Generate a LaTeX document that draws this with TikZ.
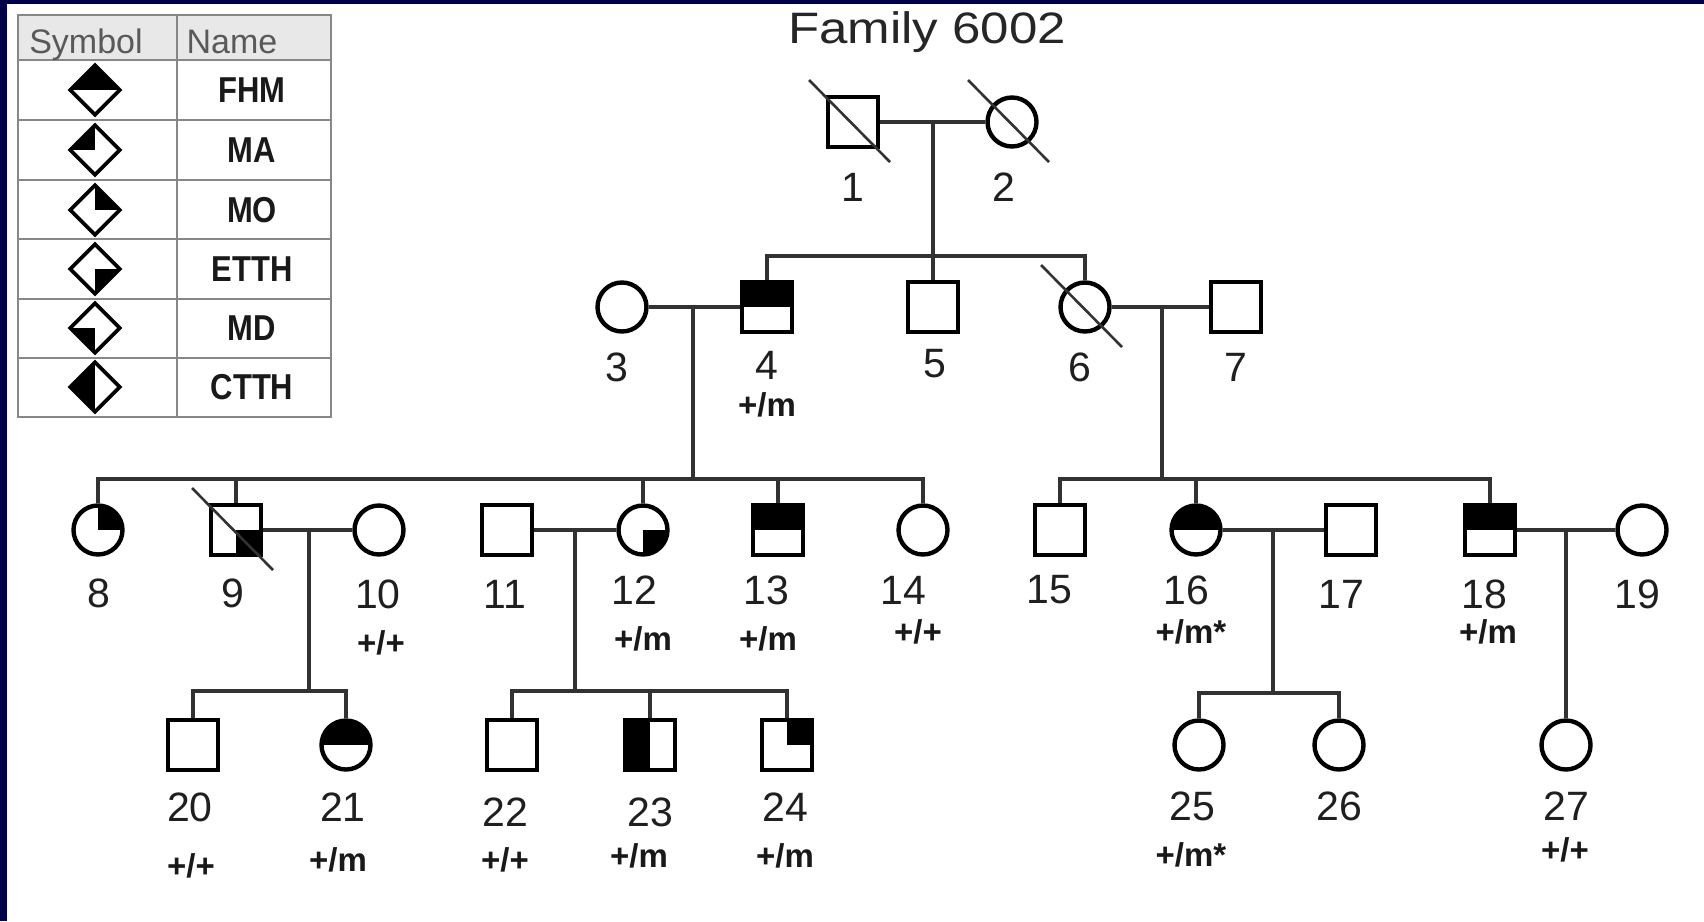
\documentclass[tikz,border=0pt]{standalone}
\usepackage{fontspec}
\setmainfont{Liberation Sans}
\usetikzlibrary{shapes.geometric,calc}
\definecolor{navy}{RGB}{0,0,72}
\definecolor{connc}{RGB}{50,50,50}
\definecolor{gridc}{RGB}{135,135,135}
\definecolor{hdrfill}{RGB}{232,232,232}
\begin{document}
\begin{tikzpicture}[x=1pt,y=-1pt,
  sym/.style={draw=black, line width=4.4pt, inner sep=0pt, fill=white},
  male/.style={sym, rectangle, minimum size=50pt},
  female/.style={sym, circle, minimum size=49pt},
  legsym/.style={sym, diamond, aspect=1, minimum width=51pt, minimum height=51pt, line width=3.8pt},
  fhm/.style={path picture={\fill[black] (path picture bounding box.north west) rectangle (path picture bounding box.east);}},
  ma/.style={path picture={\fill[black] (path picture bounding box.north west) rectangle (path picture bounding box.center);}},
  mo/.style={path picture={\fill[black] (path picture bounding box.north) rectangle (path picture bounding box.east);}},
  etth/.style={path picture={\fill[black] (path picture bounding box.center) rectangle (path picture bounding box.south east);}},
  md/.style={path picture={\fill[black] (path picture bounding box.west) rectangle (path picture bounding box.south);}},
  ctth/.style={path picture={\fill[black] (path picture bounding box.north west) rectangle (path picture bounding box.south);}},
  conn/.style={draw=connc, line width=3.2pt},
  dead/.style={draw=connc, line width=2.6pt},
  lbl/.style={font=\fontsize{41}{41}\selectfont, text=black!88, inner sep=0pt},
  geno/.style={font=\bfseries\fontsize{33}{33}\selectfont, text=black!90, inner sep=0pt},
  hdr/.style={font=\fontsize{34}{34}\selectfont, text=black!65, inner sep=0pt, anchor=base},
  legname/.style={font=\bfseries\fontsize{36}{36}\selectfont, text=black!90, inner sep=0pt},
]
% canvas and frame
\useasboundingbox (0,0) rectangle (1704,921);
\fill[white] (0,0) rectangle (1704,921);
\fill[navy] (0,0) rectangle (7,921);
\fill[navy] (0,0) rectangle (1704,4);

% ---------- legend ----------
\fill[hdrfill] (18,15) rectangle (331,60);
\draw[gridc, line width=2.5pt] (18,15) rectangle (331,417);
\draw[gridc, line width=2.5pt] (177,15) -- (177,417);
\foreach \yy in {60,120,180,239,299,358} \draw[gridc, line width=2.5pt] (18,\yy) -- (331,\yy);
\node[hdr] (hsym) at (86,53) {Symbol};
\node[hdr] (hname) at (232,53) {Name};
\node[legsym, fhm]  (d1) at (95,90)  {};
\node[legsym, ma]   (d2) at (95,150) {};
\node[legsym, mo]   (d3) at (95,210) {};
\node[legsym, etth] (d4) at (95,269) {};
\node[legsym, md]   (d5) at (95,328) {};
\node[legsym, ctth] (d6) at (95,387) {};
\node[legname] (t1) at (252,90)  {\scalebox{0.86}[1]{FHM}};
\node[legname] (t2) at (252,150) {\scalebox{0.86}[1]{MA}};
\node[legname] (t3) at (252,210) {\scalebox{0.86}[1]{MO}};
\node[legname] (t4) at (252,269) {\scalebox{0.86}[1]{ETTH}};
\node[legname] (t5) at (252,328) {\scalebox{0.86}[1]{MD}};
\node[legname] (t6) at (252,387) {\scalebox{0.86}[1]{CTTH}};

% ---------- title ----------
\node[anchor=base, font=\fontsize{44}{44}\selectfont, text=black!85, inner sep=0pt] (title) at (927,43) {\scalebox{1.16}[1]{Family 6002}};

% ---------- generation I ----------
\node[male]   (n1) at (853,122) {};
\node[female] (n2) at (1012,122) {};
% ---------- generation II ----------
\node[female]    (n3) at (622,307) {};
\node[male, fhm] (n4) at (767,307) {};
\node[male]      (n5) at (933,307) {};
\node[female]    (n6) at (1085,307) {};
\node[male]      (n7) at (1236,307) {};
% ---------- generation III ----------
\node[female, mo]   (n8)  at (98,530)   {};
\node[male, etth]   (n9)  at (236,530)  {};
\node[female]       (n10) at (379,530)  {};
\node[male]         (n11) at (507,530)  {};
\node[female, etth] (n12) at (643,530)  {};
\node[male, fhm]    (n13) at (778,530)  {};
\node[female]       (n14) at (923,530)  {};
\node[male]         (n15) at (1060,530) {};
\node[female, fhm]  (n16) at (1196,530) {};
\node[male]         (n17) at (1351,530) {};
\node[male, fhm]    (n18) at (1490,530) {};
\node[female]       (n19) at (1642,530) {};
% ---------- generation IV ----------
\node[male]         (n20) at (193,745)  {};
\node[female, fhm]  (n21) at (346,745)  {};
\node[male]         (n22) at (512,745)  {};
\node[male, ctth]   (n23) at (650,745)  {};
\node[male, mo]     (n24) at (787,745)  {};
\node[female]       (n25) at (1199,745) {};
\node[female]       (n26) at (1339,745) {};
\node[female]       (n27) at (1566,745) {};

% ---------- connectors ----------
\coordinate (m12) at (933,122);
\coordinate (s2) at (933,256);
\draw[conn] (n1.east) -- (n2.west);
\draw[conn] (m12) -- (n5.north);
\draw[conn] (n4.north) |- (s2) -| (n6.north);

\coordinate (m34) at (693,307);
\coordinate (s3a) at (693,479);
\draw[conn] (n3.east) -- (n4.west);
\draw[conn] (m34) -- (s3a);
\draw[conn] (n8.north) |- (s3a) -| (n14.north);
\draw[conn] (n9.north) -- (n9.north |- s3a);
\draw[conn] (n12.north) -- (n12.north |- s3a);
\draw[conn] (n13.north) -- (n13.north |- s3a);

\coordinate (m67) at (1162,307);
\coordinate (s3b) at (1162,479);
\draw[conn] (n6.east) -- (n7.west);
\draw[conn] (m67) -- (s3b);
\draw[conn] (n15.north) |- (s3b) -| (n18.north);
\draw[conn] (n16.north) -- (n16.north |- s3b);

\coordinate (m910) at (309,530);
\coordinate (s4a) at (309,691);
\draw[conn] (n9.east) -- (n10.west);
\draw[conn] (m910) -- (s4a);
\draw[conn] (n20.north) |- (s4a) -| (n21.north);

\coordinate (m1112) at (575,530);
\coordinate (s4b) at (575,691);
\draw[conn] (n11.east) -- (n12.west);
\draw[conn] (m1112) -- (s4b);
\draw[conn] (n22.north) |- (s4b) -| (n24.north);
\draw[conn] (n23.north) -- (n23.north |- s4b);

\coordinate (m1617) at (1273,530);
\coordinate (s4c) at (1273,693);
\draw[conn] (n16.east) -- (n17.west);
\draw[conn] (m1617) -- (s4c);
\draw[conn] (n25.north) |- (s4c) -| (n26.north);

\coordinate (m1819) at (1566,530);
\draw[conn] (n18.east) -- (n19.west);
\draw[conn] (m1819) -- (n27.north);

% ---------- deceased marks ----------
\foreach \n in {n1,n2,n6,n9}
  \draw[dead] ([shift={(-44,-42)}]\n.center) -- ([shift={(37,40)}]\n.center);

% ---------- labels ----------
\node[lbl] (l1) at (853,187) {1};
\node[lbl] (l2) at (1004,187) {2};
\node[lbl] (l3) at (617,367) {3};
\node[lbl] (l4) at (767,365) {4};
\node[lbl] (l5) at (935,364) {5};
\node[lbl] (l6) at (1080,367) {6};
\node[lbl] (l7) at (1236,367) {7};
\node[geno] (g4) at (767,405) {+/m};

\node[lbl] (l8)  at (99,593)   {8};
\node[lbl] (l9)  at (233,593)  {9};
\node[lbl] (l10) at (378,594)  {10};
\node[lbl] (l11) at (505,594)  {11};
\node[lbl] (l12) at (634,590)  {12};
\node[lbl] (l13) at (766,590)  {13};
\node[lbl] (l14) at (903,590)  {14};
\node[lbl] (l15) at (1049,590) {15};
\node[lbl] (l16) at (1186,590) {16};
\node[lbl] (l17) at (1341,594) {17};
\node[lbl] (l18) at (1484,594) {18};
\node[lbl] (l19) at (1637,594) {19};
\node[geno] (g10) at (381,643)  {+/+};
\node[geno] (g12) at (643,639)  {+/m};
\node[geno] (g13) at (768,639)  {+/m};
\node[geno] (g14) at (918,632)  {+/+};
\node[geno] (g16) at (1191,632) {+/m*};
\node[geno] (g18) at (1488,632) {+/m};

\node[lbl] (l20) at (190,807)  {20};
\node[lbl] (l21) at (343,807)  {21};
\node[lbl] (l22) at (505,812)  {22};
\node[lbl] (l23) at (650,812)  {23};
\node[lbl] (l24) at (785,807)  {24};
\node[lbl] (l25) at (1192,806) {25};
\node[lbl] (l26) at (1339,806) {26};
\node[lbl] (l27) at (1566,806) {27};
\node[geno] (g20) at (191,866)  {+/+};
\node[geno] (g21) at (338,860)  {+/m};
\node[geno] (g22) at (505,860)  {+/+};
\node[geno] (g23) at (639,856)  {+/m};
\node[geno] (g24) at (785,856)  {+/m};
\node[geno] (g25) at (1191,855) {+/m*};
\node[geno] (g27) at (1565,850) {+/+};
\end{tikzpicture}
\end{document}
